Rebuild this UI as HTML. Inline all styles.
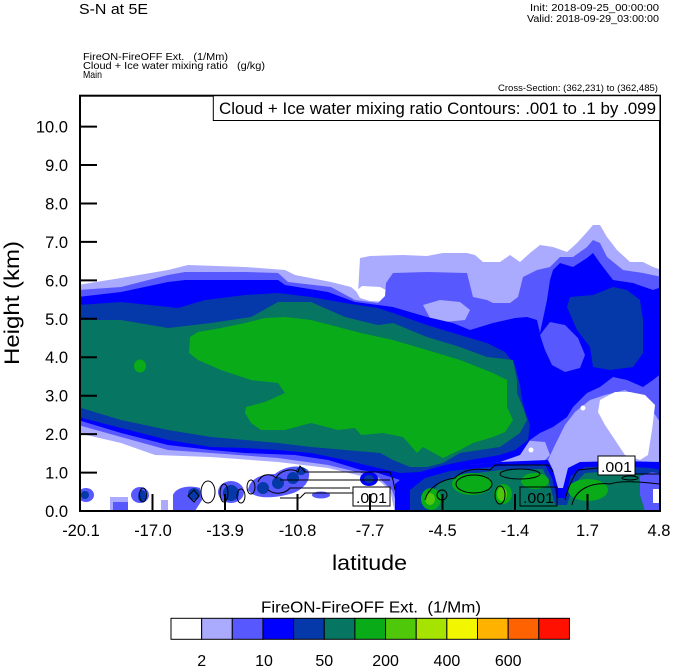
<!DOCTYPE html>
<html><head><meta charset="utf-8"><style>
html,body{margin:0;padding:0;background:#fff;}
svg{display:block;}
text{font-family:"Liberation Sans",Arial,sans-serif;fill:#000;white-space:pre;}
</style></head><body>
<svg width="674" height="668" viewBox="0 0 674 668" xmlns="http://www.w3.org/2000/svg">
<defs><clipPath id="pc"><rect x="80" y="95.7" width="580" height="415.3"/></clipPath></defs>
<rect width="674" height="668" fill="#fff"/>

<!-- header -->
<text x="79" y="14" font-size="15" textLength="69" lengthAdjust="spacingAndGlyphs">S-N at 5E</text>
<text x="530" y="11" font-size="10" textLength="129" lengthAdjust="spacingAndGlyphs">Init: 2018-09-25_00:00:00</text>
<text x="527" y="22" font-size="10" textLength="132" lengthAdjust="spacingAndGlyphs">Valid: 2018-09-29_03:00:00</text>
<text x="83" y="60" font-size="10.5" textLength="145" lengthAdjust="spacingAndGlyphs">FireON-FireOFF Ext.   (1/Mm)</text>
<text x="83" y="69" font-size="10.5" textLength="182" lengthAdjust="spacingAndGlyphs">Cloud + Ice water mixing ratio   (g/kg)</text>
<text x="83" y="78" font-size="10.5" textLength="19" lengthAdjust="spacingAndGlyphs">Main</text>
<text x="498" y="91" font-size="9" textLength="160" lengthAdjust="spacingAndGlyphs">Cross-Section: (362,231) to (362,485)</text>

<g clip-path="url(#pc)">
<!-- lavender -->
<polygon fill="#AAAAFF" points="78,285 121,278 168,270 188,265 245,267 285,270 295,275 331,282 351,287 358,293 360,258 370,256 403,255 427,256 443,253 467,253 475,255 483,262 500,262 510,255 520,262 530,253 540,245 553,247 567,252 577,243 587,232 593,225 600,225 607,237 617,250 630,262 643,262 653,267 662,270 662,513 395,513 390,490 378,480 328,468 278,462 211,457 155,455 121,443 78,433"/>
<polygon fill="#fff" points="356,291 362,286 380,287 390,292 398,298 392,302 370,301 360,298"/>
<!-- medium -->
<polygon fill="#5858FF" points="78,290 121,287 168,275 185,272 245,272 278,273 288,282 331,287 355,300 378,303 385,296 386,283 393,273 427,272 467,273 470,285 473,297 487,300 493,303 510,303 518,297 523,277 537,270 550,267 560,257 573,257 587,247 593,240 600,243 607,257 623,270 643,273 662,277 662,425 645,400 625,390 605,395 590,400 575,412 565,425 555,445 548,460 545,513 400,513 392,490 378,477 328,465 278,458 211,453 168,450 121,437 78,425"/>
<polygon fill="#AAAAFF" points="423,305 440,300 460,302 470,310 465,320 445,322 430,318"/>
<polygon fill="#AAAAFF" points="490,445 520,440 545,442 550,455 540,465 500,466 485,458"/>
<!-- white patch right -->
<polygon fill="#fff" points="600,400 615,392 630,392 645,395 655,405 652,430 648,455 640,460 625,455 615,440 605,425 598,412"/>
<circle cx="583" cy="408" r="2.5" fill="#fff"/>
<circle cx="531" cy="450" r="2.5" fill="#fff"/>
<!-- blue -->
<polygon fill="#0000FF" points="78,297 121,292 168,282 185,280 278,280 285,285 328,292 355,302 378,305 393,307 427,317 453,323 470,330 493,323 515,318 527,317 537,320 540,333 547,300 550,280 553,270 560,263 573,267 587,258 593,253 600,263 613,280 633,283 653,290 662,287 662,373 653,380 643,387 627,380 613,377 600,387 587,393 573,407 567,417 553,427 540,433 530,440 520,455 500,462 470,465 445,470 420,478 400,480 378,473 361,470 328,460 295,455 245,453 211,450 168,445 121,433 78,420"/>
<polygon fill="#5858FF" points="540,335 550,322 565,325 578,338 585,355 580,368 565,372 552,365 545,350"/>
<!-- dark blue -->
<polygon fill="#0538A8" points="78,305 121,302 178,308 205,300 245,295 278,293 311,297 345,303 378,308 393,313 427,325 460,335 487,343 505,352 515,365 520,385 523,405 530,425 528,440 515,450 500,455 470,460 445,465 420,472 400,473 378,468 345,460 311,453 278,450 245,448 211,447 168,440 121,428 78,417"/>
<polygon fill="#0538A8" points="567,307 570,297 593,295 613,287 627,290 640,300 643,320 643,353 633,367 610,370 593,367 590,347 577,330"/>
<!-- teal -->
<polygon fill="#067561" points="78,320 121,320 168,328 211,323 251,317 278,302 311,302 345,317 378,325 393,323 427,337 460,347 487,357 513,360 517,380 517,393 523,407 527,420 520,433 500,447 460,453 443,463 427,467 410,467 393,460 380,453 345,450 311,447 278,443 245,440 211,437 168,430 121,420 78,407"/>
<!-- green -->
<polygon fill="#09AB18" points="190,337 198,332 221,328 245,323 265,318 285,317 311,320 338,327 361,333 393,340 427,350 460,360 493,373 507,380 507,393 507,407 513,420 505,432 493,437 473,443 460,450 443,458 423,447 417,453 403,437 383,433 361,435 355,428 338,430 311,423 285,430 261,430 251,423 245,413 246,407 265,402 285,393 278,383 251,380 221,370 198,360 189,353"/>
<ellipse cx="140" cy="366" rx="6" ry="6.5" fill="#09AB18"/>

<!-- bottom strip -->
<polygon fill="#0000FF" points="395,484 405,476 425,472 450,467 500,462 548,460 553,470 558,488 563,488 568,468 580,462 620,461 662,462 662,511 395,511"/>
<polygon fill="#0538A8" points="410,490 425,478 450,471 500,466 545,465 552,478 557,498 565,498 571,476 585,467 620,466 650,468 662,470 662,511 410,511"/>
<polygon fill="#067561" points="430,495 440,482 460,475 500,470 543,469 550,485 555,505 567,505 573,485 585,473 615,471 640,474 650,480 648,511 430,511"/>
<polygon fill="#5858FF" points="640,476 652,472 662,474 662,511 645,511 640,495"/>
<rect x="653" y="489" width="6" height="14" fill="#fff"/>
<ellipse cx="431" cy="499" rx="10" ry="11" fill="#09AB18"/>
<ellipse cx="430" cy="499" rx="5" ry="6" fill="#50C80A"/>
<ellipse cx="472" cy="484" rx="20" ry="11" fill="#09AB18"/>
<ellipse cx="503" cy="494" rx="9" ry="10" fill="#09AB18"/>
<ellipse cx="502" cy="494" rx="5" ry="7" fill="#50C80A"/>
<ellipse cx="535" cy="481" rx="14" ry="8" fill="#09AB18"/>
<ellipse cx="588" cy="490" rx="20" ry="11" fill="#09AB18"/>

<!-- lower-left blobs -->
<ellipse cx="86" cy="495" rx="8" ry="7" fill="#5858FF"/>
<ellipse cx="85" cy="495" rx="4" ry="4" fill="#0538A8"/>
<rect x="110" y="497" width="18" height="16" fill="#AAAAFF"/>
<rect x="113" y="502" width="15" height="11" fill="#5858FF"/>
<ellipse cx="140" cy="495" rx="9" ry="8" fill="#5858FF"/>
<ellipse cx="142" cy="496" rx="4" ry="6" fill="#0538A8"/>
<rect x="161" y="500" width="7" height="13" fill="#AAAAFF"/>
<path d="M173,511 L173,495 C176,487 190,485 200,488 L202,500 L195,511 Z" fill="#5858FF"/>
<ellipse cx="194" cy="494" rx="6" ry="6" fill="#0538A8"/>
<ellipse cx="231" cy="492" rx="13" ry="11" fill="#5858FF"/>
<ellipse cx="231" cy="493" rx="8" ry="8" fill="#0538A8"/>
<path d="M248,490 C250,478 262,474 275,474 C285,466 300,464 308,470 C312,478 305,490 290,494 C275,498 255,500 248,490 Z" fill="#5858FF"/>
<ellipse cx="263" cy="488" rx="6" ry="6" fill="#0538A8"/>
<ellipse cx="278" cy="483" rx="6" ry="6" fill="#0538A8"/>
<ellipse cx="293" cy="478" rx="6" ry="6" fill="#0538A8"/>
<ellipse cx="301" cy="471" rx="5" ry="4" fill="#0538A8"/>
<ellipse cx="321" cy="495" rx="9" ry="3.5" fill="#5858FF"/>
<ellipse cx="369" cy="479" rx="9" ry="7" fill="#0000FF"/>
<ellipse cx="369" cy="479" rx="5" ry="4" fill="#0538A8"/>

<!-- contour lines -->
<g fill="none" stroke="#000" stroke-width="1">
<ellipse cx="208" cy="492" rx="7" ry="11"/>
<ellipse cx="224" cy="493" rx="4" ry="9"/>
<ellipse cx="143" cy="495" rx="3.5" ry="7"/>
<path d="M188,496 L194,490 L199,496 L194,502 Z"/>
<ellipse cx="241" cy="496" rx="4" ry="7"/>
<ellipse cx="251" cy="487" rx="4" ry="7"/>
<path d="M258,482 C262,472 272,474 276,478 C280,470 292,468 298,472 L300,466 L305,472 L390,472 L393,480 L395,490"/>
<path d="M268,490 C275,495 285,494 290,488 L350,488"/>
<path d="M280,498 L300,498 L305,493 L353,493"/>
<path d="M280,480 L390,480"/>
<path d="M425,500 C428,488 440,480 455,478 C462,470 475,468 490,470 L495,465 L548,465 L553,472"/>
<ellipse cx="474" cy="484" rx="18" ry="9"/>
<ellipse cx="520" cy="474" rx="20" ry="5"/>
<circle cx="442" cy="495" r="5"/>
<ellipse cx="500" cy="495" rx="5" ry="9"/>
<path d="M565,500 C568,488 572,478 578,470 L598,468 L602,474 L662,474"/>
<path d="M572,505 C575,490 590,482 610,484 C620,480 640,482 660,484"/>
<ellipse cx="630" cy="478" rx="8" ry="2"/>
</g>
<!-- contour labels -->
<rect x="353" y="487" width="37" height="19" fill="#fff" stroke="#000" stroke-width="1"/>
<text x="356" y="503" font-size="15" textLength="31" lengthAdjust="spacingAndGlyphs">.001</text>
<rect x="520" y="487" width="37" height="19" fill="none" stroke="#000" stroke-width="1"/>
<text x="523" y="503" font-size="15" textLength="31" lengthAdjust="spacingAndGlyphs">.001</text>
<rect x="598" y="456" width="37" height="19" fill="#fff" stroke="#000" stroke-width="1"/>
<text x="601" y="472" font-size="15" textLength="31" lengthAdjust="spacingAndGlyphs">.001</text>
</g>

<!-- frame & ticks -->
<rect x="80" y="95.7" width="580" height="415.3" fill="none" stroke="#000" stroke-width="2"/>
<g stroke="#000" stroke-width="2">
<line x1="80" y1="472.6" x2="97" y2="472.6"/>
<line x1="80" y1="434.1" x2="97" y2="434.1"/>
<line x1="80" y1="395.7" x2="97" y2="395.7"/>
<line x1="80" y1="357.2" x2="97" y2="357.2"/>
<line x1="80" y1="318.8" x2="97" y2="318.8"/>
<line x1="80" y1="280.4" x2="97" y2="280.4"/>
<line x1="80" y1="241.9" x2="97" y2="241.9"/>
<line x1="80" y1="203.5" x2="97" y2="203.5"/>
<line x1="80" y1="165.0" x2="97" y2="165.0"/>
<line x1="80" y1="126.6" x2="97" y2="126.6"/>
<line x1="152.5" y1="511" x2="152.5" y2="494"/>
<line x1="225" y1="511" x2="225" y2="494"/>
<line x1="297.5" y1="511" x2="297.5" y2="494"/>
<line x1="370" y1="511" x2="370" y2="494"/>
<line x1="442.5" y1="511" x2="442.5" y2="494"/>
<line x1="515" y1="511" x2="515" y2="494"/>
<line x1="587.5" y1="511" x2="587.5" y2="494"/>
</g>

<!-- info box -->
<rect x="213.3" y="95.7" width="446.7" height="24.8" fill="#fff" stroke="#000" stroke-width="1"/>
<text x="219" y="114" font-size="17" textLength="437" lengthAdjust="spacingAndGlyphs">Cloud + Ice water mixing ratio Contours: .001 to .1 by .099</text>

<!-- y labels -->
<g font-size="16.5" text-anchor="end">
<text x="68" y="517">0.0</text>
<text x="68" y="478.6">1.0</text>
<text x="68" y="440.1">2.0</text>
<text x="68" y="401.7">3.0</text>
<text x="68" y="363.2">4.0</text>
<text x="68" y="324.8">5.0</text>
<text x="68" y="286.4">6.0</text>
<text x="68" y="247.9">7.0</text>
<text x="68" y="209.5">8.0</text>
<text x="68" y="171.0">9.0</text>
<text x="68" y="132.6">10.0</text>
</g>
<!-- x labels -->
<g font-size="16.5" text-anchor="middle">
<text x="81" y="536">-20.1</text>
<text x="153" y="536">-17.0</text>
<text x="225" y="536">-13.9</text>
<text x="297.5" y="536">-10.8</text>
<text x="370" y="536">-7.7</text>
<text x="442.5" y="536">-4.5</text>
<text x="515" y="536">-1.4</text>
<text x="587.5" y="536">1.7</text>
<text x="659" y="536">4.8</text>
</g>
<text x="332" y="570" font-size="21" textLength="75" lengthAdjust="spacingAndGlyphs">latitude</text>
<text transform="translate(19,303) rotate(-90)" font-size="21" text-anchor="middle" textLength="124" lengthAdjust="spacingAndGlyphs">Height (km)</text>

<!-- colorbar -->
<text x="261" y="612.5" font-size="16" textLength="220" lengthAdjust="spacingAndGlyphs">FireON-FireOFF Ext.  (1/Mm)</text>
<g stroke="#000" stroke-width="1">
<rect x="171" y="618.3" width="30.65" height="21" fill="#FFFFFF"/>
<rect x="201.65" y="618.3" width="30.65" height="21" fill="#AAAAFF"/>
<rect x="232.3" y="618.3" width="30.65" height="21" fill="#5858FF"/>
<rect x="262.95" y="618.3" width="30.65" height="21" fill="#0000FF"/>
<rect x="293.6" y="618.3" width="30.65" height="21" fill="#0538A8"/>
<rect x="324.25" y="618.3" width="30.65" height="21" fill="#067561"/>
<rect x="354.9" y="618.3" width="30.65" height="21" fill="#09AB18"/>
<rect x="385.55" y="618.3" width="30.65" height="21" fill="#50C80A"/>
<rect x="416.2" y="618.3" width="30.65" height="21" fill="#A6E300"/>
<rect x="446.85" y="618.3" width="30.65" height="21" fill="#F2F700"/>
<rect x="477.5" y="618.3" width="30.65" height="21" fill="#FFB300"/>
<rect x="508.15" y="618.3" width="30.65" height="21" fill="#FF6200"/>
<rect x="538.8" y="618.3" width="30.65" height="21" fill="#FF1000"/>
</g>
<g font-size="16" text-anchor="middle">
<text x="201.7" y="666">2</text>
<text x="264" y="666">10</text>
<text x="324.3" y="666">50</text>
<text x="385.6" y="666">200</text>
<text x="446.9" y="666">400</text>
<text x="508.2" y="666">600</text>
</g>
</svg>
</body></html>
